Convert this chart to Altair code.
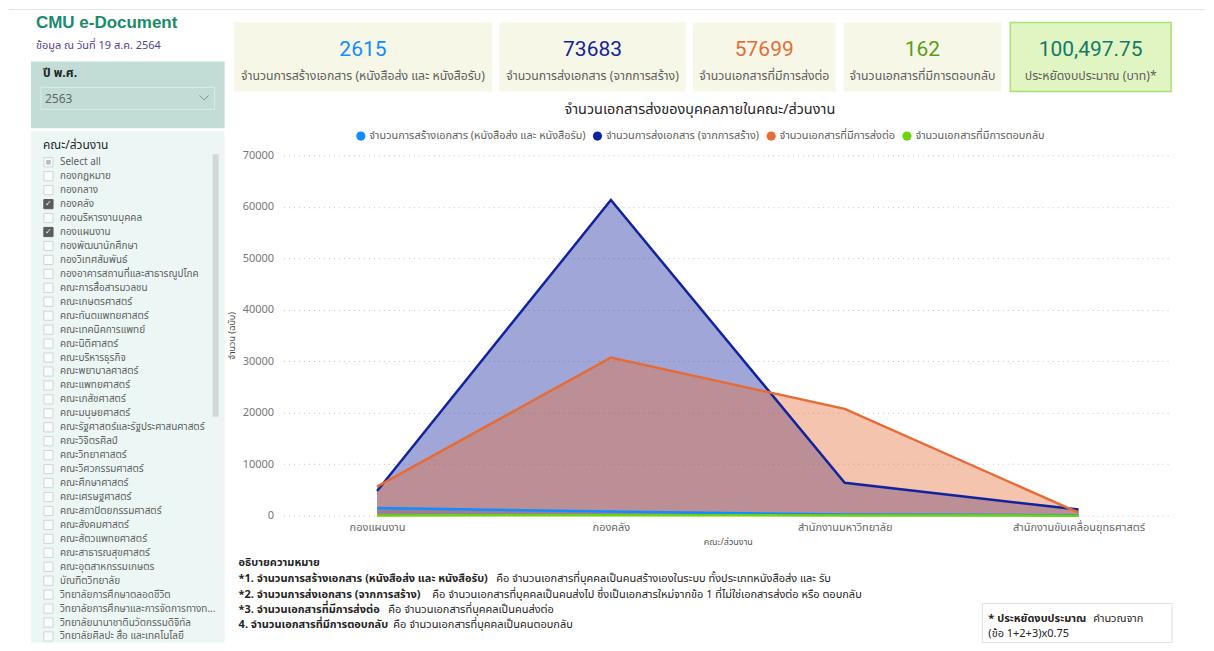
import altair as alt
import pandas as pd

# ---------------- data ----------------
units = ["กองแผนงาน", "กองคลัง", "สำนักงานมหาวิทยาลัย", "สำนักงานขับเคลื่อนยุทธศาสตร์"]
series_names = [
    "จำนวนการสร้างเอกสาร (หนังสือส่ง และ หนังสือรับ)",
    "จำนวนการส่งเอกสาร (จากการสร้าง)",
    "จำนวนเอกสารที่มีการส่งต่อ",
    "จำนวนเอกสารที่มีการตอบกลับ",
]
created = [1500, 800, 250, 65]
sent = [4800, 61300, 6400, 1183]
forwarded = [5650, 30700, 20750, 599]
replied = [20, 100, 40, 2]

kpi_values = ["2615", "73683", "57699", "162", "100,497.75"]
kpi_labels = [
    "จำนวนการสร้างเอกสาร (หนังสือส่ง และ หนังสือรับ)",
    "จำนวนการส่งเอกสาร (จากการสร้าง)",
    "จำนวนเอกสารที่มีการส่งต่อ",
    "จำนวนเอกสารที่มีการตอบกลับ",
    "ประหยัดงบประมาณ (บาท)*",
]

slicer_items = [
    "กองกฎหมาย", "กองกลาง", "กองคลัง", "กองบริหารงานบุคคล", "กองแผนงาน",
    "กองพัฒนานักศึกษา", "กองวิเทศสัมพันธ์", "กองอาคารสถานที่และสาธารณูปโภค",
    "คณะการสื่อสารมวลชน", "คณะเกษตรศาสตร์", "คณะทันตแพทยศาสตร์", "คณะเทคนิคการแพทย์",
    "คณะนิติศาสตร์", "คณะบริหารธุรกิจ", "คณะพยาบาลศาสตร์", "คณะแพทยศาสตร์",
    "คณะเภสัชศาสตร์", "คณะมนุษยศาสตร์", "คณะรัฐศาสตร์และรัฐประศาสนศาสตร์", "คณะวิจิตรศิลป์",
    "คณะวิทยาศาสตร์", "คณะวิศวกรรมศาสตร์", "คณะศึกษาศาสตร์", "คณะเศรษฐศาสตร์",
    "คณะสถาปัตยกรรมศาสตร์", "คณะสังคมศาสตร์", "คณะสัตวแพทยศาสตร์", "คณะสาธารณสุขศาสตร์",
    "คณะอุตสาหกรรมเกษตร", "บัณฑิตวิทยาลัย", "วิทยาลัยการศึกษาตลอดชีวิต",
    "วิทยาลัยการศึกษาและการจัดการทางท...", "วิทยาลัยนานาชาตินวัตกรรมดิจิทัล",
    "วิทยาลัยศิลปะ สื่อ และเทคโนโลยี",
]
checked_items = ["กองคลัง", "กองแผนงาน"]

notes_bold = [
    "*1. จำนวนการสร้างเอกสาร (หนังสือส่ง และ หนังสือรับ)",
    "*2. จำนวนการส่งเอกสาร (จากการสร้าง)",
    "*3. จำนวนเอกสารที่มีการส่งต่อ",
    "4. จำนวนเอกสารที่มีการตอบกลับ",
]
notes_regular = [
    "คือ จำนวนเอกสารที่บุคคลเป็นคนสร้างเองในระบบ ทั้งประเภทหนังสือส่ง และ รับ",
    "คือ จำนวนเอกสารที่บุคคลเป็นคนส่งไป ซึ่งเป็นเอกสารใหม่จากข้อ 1 ที่ไม่ใช่เอกสารส่งต่อ หรือ ตอบกลับ",
    "คือ จำนวนเอกสารที่บุคคลเป็นคนส่งต่อ",
    "คือ จำนวนเอกสารที่บุคคลเป็นคนตอบกลับ",
]

# ---------------- layout helpers ----------------
FONT = "Segoe UI, Tahoma, 'Noto Sans Thai', 'Noto Sans', sans-serif"
NUMFONT = "Roboto, 'DejaVu Sans', sans-serif"
OX, OY = 283, 155  # page position of the plot origin
W, H = 890, 361


def X(v):
    return v - OX


def Y(v):
    return v - OY


ONE = pd.DataFrame({"k": [0]})


def rect(x1, y1, x2, y2, fill, stroke=None, sw=1.0, opacity=1.0):
    kw = dict(fill=fill, opacity=opacity)
    if stroke:
        kw.update(stroke=stroke, strokeWidth=sw)
    else:
        kw.update(strokeWidth=0)
    return alt.Chart(ONE).mark_rect(**kw).encode(
        x=alt.value(X(x1)), x2=alt.value(X(x2)), y=alt.value(Y(y1)), y2=alt.value(Y(y2))
    )


def rule(x1, y1, x2, y2, color, sw=1.0):
    return alt.Chart(ONE).mark_rule(color=color, strokeWidth=sw).encode(
        x=alt.value(X(x1)), x2=alt.value(X(x2)), y=alt.value(Y(y1)), y2=alt.value(Y(y2))
    )


def text(s, x, y, size=11, color="#252423", weight="normal", align="left", font=FONT):
    return alt.Chart(pd.DataFrame({"t": [s]})).mark_text(
        align=align, baseline="middle", fontSize=size, color=color, fontWeight=weight, font=font
    ).encode(text="t:N", x=alt.value(X(x)), y=alt.value(Y(y)))


layers = []
# invisible page frame (defines the bounds of the drawing)
layers.append(rect(8, 8, 1206, 643, "#ffffff", opacity=0))
layers.append(rule(8, 9, 1206, 9, "#e3e3e3"))

# ---------------- sidebar ----------------
layers.append(text("CMU e-Document", 35, 23, 17, "#1a8a6c", "bold", font="'Liberation Sans', Arial, sans-serif"))
layers.append(text("ข้อมูล ณ วันที่ 19 ส.ค. 2564", 35, 46, 11, "#553f93"))
layers.append(rect(30, 61, 224, 128, "#c2ddd6"))
layers.append(text("ปี พ.ศ.", 42, 73, 12, "#252423", "bold"))
layers.append(rect(40, 87, 214, 109, "#c2ddd6", stroke="#dcebe7", sw=1))
layers.append(text("2563", 44, 98.5, 12, "#666666"))
layers.append(rule(199, 95, 203.5, 99.5, "#8a8a8a"))
layers.append(rule(203.5, 99.5, 208, 95, "#8a8a8a"))
layers.append(rect(30, 131, 224, 643, "#ecf7f5"))
layers.append(text("คณะ/ส่วนงาน", 42, 145, 12, "#252423"))
layers.append(rect(212, 154, 218, 417, "#d3d8d6"))

slicer_df = pd.DataFrame({
    "name": ["Select all"] + slicer_items,
    "state": ["partial"] + ["checked" if n in checked_items else "empty" for n in slicer_items],
})
list_y = alt.Y("name:N", sort=None, axis=None,
               scale=alt.Scale(type="point", range=[Y(162), Y(637)], padding=0))
sb = alt.Chart(slicer_df)
box = sb.mark_point(shape="square", size=85, filled=True, strokeWidth=1).encode(
    x=alt.value(X(47.5)), y=list_y,
    fill=alt.condition("datum.state == 'checked'", alt.value("#1b1b1b"), alt.value("#ffffff")),
    stroke=alt.condition("datum.state == 'checked'", alt.value("#1b1b1b"), alt.value("#c6c6c6")),
)
partial = sb.mark_point(shape="square", size=22, filled=True, color="#bdbdbd").encode(
    x=alt.value(X(47.5)), y=list_y,
    opacity=alt.condition("datum.state == 'partial'", alt.value(1), alt.value(0)),
)
tick = sb.mark_text(text="✓", fontSize=8, color="#ffffff", font="'DejaVu Sans', sans-serif",
                    baseline="middle", align="center").encode(
    x=alt.value(X(47.5)), y=list_y,
    opacity=alt.condition("datum.state == 'checked'", alt.value(1), alt.value(0)),
)
labels = sb.mark_text(align="left", baseline="middle", fontSize=10, color="#605E5C", font=FONT).encode(
    x=alt.value(X(59)), y=list_y, text="name:N"
)
layers.append(alt.layer(box, partial, tick, labels))

# ---------------- KPI cards ----------------
cards = [(233, 492), (499, 686), (693, 836), (844, 1002), (1011, 1172)]
num_colors = ["#118DFF", "#12239E", "#E66C37", "#5a9e12", "#127a6a"]
for i, (a, b) in enumerate(cards):
    if i == 4:
        layers.append(rect(a, 22, b, 91, "#e0f5c2", stroke="#a9e16f", sw=1.5))
    else:
        layers.append(rect(a, 22, b, 91, "#f6f7e7"))
    cx = (a + b) / 2
    layers.append(text(kpi_values[i], cx, 50, 21, num_colors[i], align="center", font=NUMFONT))
    layers.append(text(kpi_labels[i], cx, 76, 12.3, "#605E5C", align="center"))

# ---------------- chart title ----------------
layers.append(text("จำนวนเอกสารส่งของบุคคลภายในคณะ/ส่วนงาน", 700, 110, 14.5, "#252423", align="center"))

# ---------------- area chart ----------------
rows = []
for s, vals in zip(series_names, [created, sent, forwarded, replied]):
    for u, v in zip(units, vals):
        rows.append({"unit": u, "series": s, "value": v})
long = pd.DataFrame(rows)

colors = ["#118DFF", "#12239E", "#E66C37", "#6CD40E"]
base = alt.Chart(long).encode(
    x=alt.X("unit:N", sort=units, scale=alt.Scale(type="point", padding=0.4),
            axis=alt.Axis(title="คณะ/ส่วนงาน", labelAngle=0, labelFont=FONT, labelFontSize=11,
                          labelColor="#666666", labelPadding=6, ticks=False, domain=False, grid=False,
                          titleFont=FONT, titleFontSize=9, titleFontWeight="normal", titleColor="#555555",
                          titlePadding=5)),
    y=alt.Y("value:Q", stack=None, scale=alt.Scale(domain=[0, 70000], nice=False),
            axis=alt.Axis(title="จำนวน (ฉบับ)", values=[0, 10000, 20000, 30000, 40000, 50000, 60000, 70000],
                          format="d", labelFont=FONT, labelFontSize=11, labelColor="#777777",
                          labelPadding=10, ticks=False, domain=False, grid=True, gridDash=[1, 4],
                          gridColor="#c4c4c4", gridWidth=1, titleFont=FONT, titleFontSize=9,
                          titleFontWeight="normal", titleColor="#444444", titlePadding=6)),
    color=alt.Color("series:N", sort=series_names,
                    scale=alt.Scale(domain=series_names, range=colors),
                    legend=alt.Legend(orient="none", legendX=X(355), legendY=Y(130), direction="horizontal",
                                      title=None, symbolType="circle", symbolSize=85, symbolOpacity=1,
                                      symbolStrokeWidth=0, labelFont=FONT, labelFontSize=10.9,
                                      labelColor="#605E5C", columnPadding=6, labelOffset=3,
                                      labelLimit=500)),
)
area = base.mark_area(opacity=0.4)
line = base.mark_line(strokeWidth=2.5)
layers.append(alt.layer(area, line))

# ---------------- notes ----------------
layers.append(text("อธิบายความหมาย", 238, 563, 11, "#252423", "bold"))
note_y = [579, 595, 610, 626]
note_x2 = [496, 432, 388, 393]
for i in range(4):
    layers.append(text(notes_bold[i], 238, note_y[i], 11, "#252423", "bold"))
    layers.append(text(notes_regular[i], note_x2[i], note_y[i], 11, "#252423"))

# footnote box
layers.append(rect(983, 604, 1173, 643, "#ffffff", stroke="#e1e1e1", sw=1))
layers.append(text("* ประหยัดงบประมาณ", 989, 619, 11, "#252423", "bold"))
layers.append(text("คำนวณจาก", 1094, 619, 11, "#252423"))
layers.append(text("(ข้อ 1+2+3)x0.75", 989, 635, 11, "#252423"))

chart = alt.layer(*layers).resolve_scale(y="independent").properties(
    width=W, height=H, padding=0, autosize=alt.AutoSizeParams(type="pad")
).configure_view(stroke=None)

chart.save("out.html", embed_options={"renderer": "svg", "actions": False})
